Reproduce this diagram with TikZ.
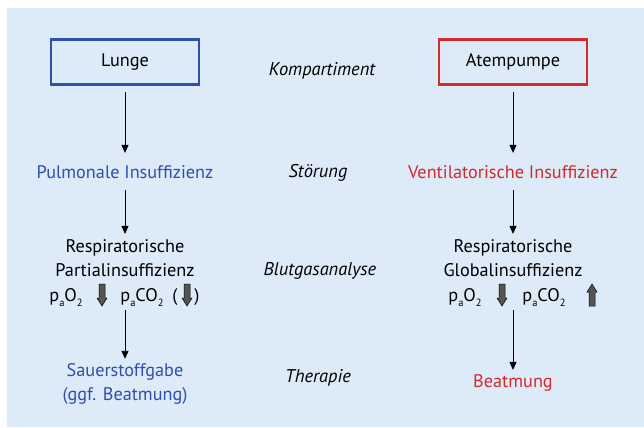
\documentclass[tikz,border=0pt]{standalone}
\usepackage{fontspec}
\setmainfont{PT Sans}
\usetikzlibrary{arrows.meta,positioning}
\definecolor{bgc}{HTML}{DDEAF7}
\definecolor{lungc}{HTML}{2F4FAF}
\definecolor{pumpc}{HTML}{D22B2B}
\definecolor{blockc}{HTML}{555555}
\newcommand{\lowsub}[1]{\raisebox{-0.6ex}{\fontsize{10.5}{11}\selectfont #1}}

\begin{document}
\begin{tikzpicture}[x=1bp,y=-1bp,
  txt/.style={font=\fontsize{18.3}{20}\selectfont, inner sep=0pt, anchor=base},
  lbl/.style={txt, font=\fontsize{18.5}{20}\selectfont\itshape},
  boxc/.style={draw=#1, line width=2.4bp, minimum width=148bp, minimum height=45bp,
    inner sep=0pt, font=\fontsize{18.3}{20}\selectfont},
  flow/.style={-{Triangle[length=8bp,width=7bp]}, line width=0.9bp},
  pics/dnarrow/.style={code={\draw[fill=blockc, line width=0.5bp]
    (-3,-11) -- (3,-11) -- (3,3) -- (5,3) -- (0,11) -- (-5,3) -- (-3,3) -- cycle;}},
  pics/uparrow/.style={code={\draw[fill=blockc, line width=0.5bp]
    (-3,11) -- (3,11) -- (3,-3) -- (5,-3) -- (0,-11) -- (-5,-3) -- (-3,-3) -- cycle;}}]
  \useasboundingbox (0,0) rectangle (644,427);
  \fill[bgc] (7,8) rectangle (644,427);

  % Kompartiment
  \node[boxc=lungc] (lunge) at (125,62) {Lunge};
  \node[boxc=pumpc] (atem) at (513,62) {Atempumpe};
  \node[lbl] (komp) at (322,75) {Kompartiment};

  % Stoerung
  \node[txt, text=lungc] (pulm) at (125,178) {Pulmonale Insuffizienz};
  \node[txt, text=pumpc] (vent) at (513,178) {Ventilatorische Insuffizienz};
  \node[lbl] (stoer) at (318,177) {Störung};

  % Blutgasanalyse
  \node[txt] (partA) at (125,252) {Respiratorische};
  \node[txt] (partB) at (125,276) {Partialinsuffizienz};
  \node[txt] (globA) at (513,252) {Respiratorische};
  \node[txt] (globB) at (513,276) {Globalinsuffizienz};
  \node[lbl] (blut) at (320,275) {Blutgasanalyse};

  \node[txt] (oxL) at (66,301) {p\lowsub{a}O\lowsub{2}};
  \pic at (102,295) {dnarrow};
  \node[txt] (coL) at (142,301) {p\lowsub{a}CO\lowsub{2}};
  \node[txt] (brL) at (175,301) {(};
  \pic at (187,295) {dnarrow};
  \node[txt] (brR) at (197,301) {)};

  \node[txt] (oxR) at (465,301) {p\lowsub{a}O\lowsub{2}};
  \pic at (502,295) {dnarrow};
  \node[txt] (coR) at (544,301) {p\lowsub{a}CO\lowsub{2}};
  \pic at (592,295) {uparrow};
  \coordinate (gasL) at (125,310);
  \coordinate (gasR) at (513,310);

  % Therapie
  \node[txt, text=lungc] (sauerA) at (125,376) {Sauerstoffgabe};
  \node[txt, text=lungc] (sauerB) at (125,400) {(ggf. Beatmung)};
  \node[txt, text=pumpc] (beat) at (513,387) {Beatmung};
  \node[lbl] (ther) at (318,382) {Therapie};

  \draw[flow] ([yshift=-6bp]lunge.south) -- ([yshift=12bp]pulm.north);
  \draw[flow] ([yshift=-6bp]atem.south) -- ([yshift=12bp]vent.north);
  \draw[flow] ([yshift=-12bp]pulm.south) -- ([yshift=5bp]partA.north);
  \draw[flow] ([yshift=-12bp]vent.south) -- ([yshift=5bp]globA.north);
  \draw[flow] (gasL) -- ([yshift=4bp]sauerA.north);
  \draw[flow] (gasR) -- ([yshift=4bp]beat.north);
\end{tikzpicture}
\end{document}
